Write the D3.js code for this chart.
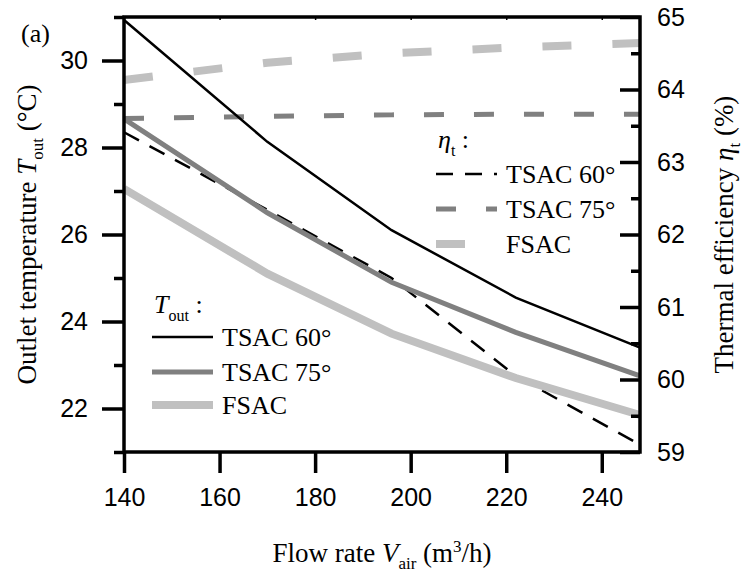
<!DOCTYPE html>
<html>
<head>
<meta charset="utf-8">
<script src="https://cdn.jsdelivr.net/npm/d3@7"></script>
<style>
  html, body { margin: 0; padding: 0; background: #fff; }
  svg text { fill: #000; }
</style>
</head>
<body>
<div id="chart"></div>
<script>
// Données
const flowRate = [140, 170, 196, 222, 248];
const toutTsac60 = [30.93, 28.13, 26.1, 24.55, 23.4];
const toutTsac75 = [28.66, 26.5, 24.9, 23.75, 22.75];
const toutFsac = [27.05, 25.1, 23.72, 22.7, 21.85];
const etaTsac60 = [63.41, 62.34, 61.4, 60.05, 59.1];
const etaTsac75 = [63.6, 63.63, 63.65, 63.66, 63.66];
const etaFsac = [64.13, 64.37, 64.5, 64.58, 64.64];

const xTicks = [140, 160, 180, 200, 220, 240];
const yLeftMajor = [22, 24, 26, 28, 30];
const yLeftMinor = [21, 23, 25, 27, 29, 31];
const yRightMajor = [59, 60, 61, 62, 63, 64, 65];
const yRightMinor = [59.5, 60.5, 61.5, 62.5, 63.5, 64.5];
const seriesNames = ["TSAC 60°", "TSAC 75°", "FSAC"];

// 1. Dimensions
const W = 745, H = 576;
const plot = { left: 124, right: 640, top: 17, bottom: 452 };
const serif = "'Liberation Serif', 'Times New Roman', serif";
const sans = "'Liberation Sans', Arial, sans-serif";

const svg = d3.select("#chart").append("svg")
    .attr("width", W)
    .attr("height", H);

// 2. Échelles
const x = d3.scaleLinear().domain([140, 248]).range([plot.left, plot.right]);
const yL = d3.scaleLinear().domain([21, 31]).range([plot.bottom, plot.top]);
const yR = d3.scaleLinear().domain([59, 65]).range([plot.bottom, plot.top]);

// 3. Courbes
const styles = [
    { color: "#000000", solidW: 2.5, dashW: 2.5, dash: "17,12" },
    { color: "#808080", solidW: 5, dashW: 5, dash: "20,30" },
    { color: "#c0c0c0", solidW: 8, dashW: 8, dash: "29,41" }
];
const toutSeries = [toutTsac60, toutTsac75, toutFsac];
const etaSeries = [etaTsac60, etaTsac75, etaFsac];

const lineL = d3.line().x((d, i) => x(flowRate[i])).y(d => yL(d));
const lineR = d3.line().x((d, i) => x(flowRate[i])).y(d => yR(d));

// η d'abord (derrière), puis T_out
[2, 1, 0].forEach(k => {
    svg.append("path")
        .attr("d", lineR(etaSeries[k]))
        .attr("fill", "none")
        .attr("stroke", styles[k].color)
        .attr("stroke-width", styles[k].dashW)
        .attr("stroke-dasharray", styles[k].dash);
});
[2, 1, 0].forEach(k => {
    svg.append("path")
        .attr("d", lineL(toutSeries[k]))
        .attr("fill", "none")
        .attr("stroke", styles[k].color)
        .attr("stroke-width", styles[k].solidW);
});

// 4. Axes
const axisStyle = g => {
    g.select(".domain").remove();
    g.selectAll("line").attr("stroke", "#000").attr("stroke-width", 3.5);
    g.selectAll("text").attr("font-family", sans).attr("font-size", 25).attr("fill", "#000");
};

svg.append("g")
    .attr("transform", `translate(${plot.left},0)`)
    .call(d3.axisLeft(yL).tickValues(yLeftMajor).tickSize(22).tickPadding(14).tickFormat(d3.format("d")))
    .call(axisStyle);
svg.append("g")
    .attr("transform", `translate(${plot.left},0)`)
    .call(d3.axisLeft(yL).tickValues(yLeftMinor).tickSize(10).tickFormat(""))
    .call(axisStyle);

svg.append("g")
    .attr("transform", `translate(${plot.right},0)`)
    .call(d3.axisRight(yR).tickValues(yRightMajor).tickSize(-20).tickPadding(17).tickFormat(d3.format("d")))
    .call(axisStyle);
svg.append("g")
    .attr("transform", `translate(${plot.right},0)`)
    .call(d3.axisRight(yR).tickValues(yRightMinor).tickSize(-9).tickFormat(""))
    .call(axisStyle);

svg.append("g")
    .attr("transform", `translate(0,${plot.bottom})`)
    .call(d3.axisBottom(x).tickValues(xTicks).tickSize(21).tickPadding(15).tickFormat(d3.format("d")))
    .call(axisStyle);
svg.append("g")
    .attr("transform", `translate(0,${plot.top})`)
    .call(d3.axisTop(x).tickValues(xTicks.slice(1)).tickSize(-3).tickFormat(""))
    .call(g => { axisStyle(g); g.selectAll("line").attr("stroke-width", 1.5); });

// Cadre
svg.append("rect")
    .attr("x", plot.left).attr("y", plot.top)
    .attr("width", plot.right - plot.left)
    .attr("height", plot.bottom - plot.top)
    .attr("fill", "none")
    .attr("stroke", "#000")
    .attr("stroke-width", 3.5);

// 5. Titres
svg.append("text")
    .attr("x", 21).attr("y", 42)
    .attr("font-family", serif).attr("font-size", 26)
    .text("(a)");

const xTitle = svg.append("text")
    .attr("x", (plot.left + plot.right) / 2).attr("y", 562)
    .attr("text-anchor", "middle")
    .attr("font-family", serif).attr("font-size", 27);
xTitle.append("tspan").text("Flow rate ");
xTitle.append("tspan").attr("font-style", "italic").text("V");
xTitle.append("tspan").attr("font-size", 17).attr("dy", 7).text("air");
xTitle.append("tspan").attr("dy", -7).text(" (m");
xTitle.append("tspan").attr("font-size", 17).attr("dy", -10).text("3");
xTitle.append("tspan").attr("dy", 10).text("/h)");

const yTitleL = svg.append("text")
    .attr("transform", `translate(36,${(plot.top + plot.bottom) / 2}) rotate(-90)`)
    .attr("text-anchor", "middle")
    .attr("font-family", serif).attr("font-size", 27);
yTitleL.append("tspan").text("Outlet temperature ");
yTitleL.append("tspan").attr("font-style", "italic").text("T");
yTitleL.append("tspan").attr("font-size", 17).attr("dy", 7).text("out");
yTitleL.append("tspan").attr("dy", -7).text(" (°C)");

const yTitleR = svg.append("text")
    .attr("transform", `translate(733,${(plot.top + plot.bottom) / 2}) rotate(-90)`)
    .attr("text-anchor", "middle")
    .attr("font-family", serif).attr("font-size", 27);
yTitleR.append("tspan").text("Thermal efficiency ");
yTitleR.append("tspan").attr("font-style", "italic").text("η");
yTitleR.append("tspan").attr("font-size", 17).attr("dy", 7).text("t");
yTitleR.append("tspan").attr("dy", -7).text(" (%)");

// 6. Légendes
function legend(x0, headY, rowsY, dashed, head, sub) {
    const h = svg.append("text")
        .attr("x", x0 + 2).attr("y", headY)
        .attr("font-family", serif).attr("font-size", 26);
    h.append("tspan").attr("font-style", "italic").text(head);
    h.append("tspan").attr("font-size", 16).attr("dy", 8).text(sub);
    h.append("tspan").attr("dy", -8).text(" :");

    seriesNames.forEach((name, k) => {
        svg.append("line")
            .attr("x1", x0).attr("x2", x0 + 61)
            .attr("y1", rowsY[k]).attr("y2", rowsY[k])
            .attr("stroke", styles[k].color)
            .attr("stroke-width", dashed ? styles[k].dashW : styles[k].solidW)
            .attr("stroke-dasharray", dashed ? styles[k].dash : null);
        svg.append("text")
            .attr("x", x0 + 70).attr("y", rowsY[k] + 9)
            .attr("font-family", serif).attr("font-size", 26)
            .text(name);
    });
}
legend(152, 313, [337, 372, 405], false, "T", "out");
legend(436, 148, [174, 209, 244], true, "η", "t");
</script>
</body>
</html>
